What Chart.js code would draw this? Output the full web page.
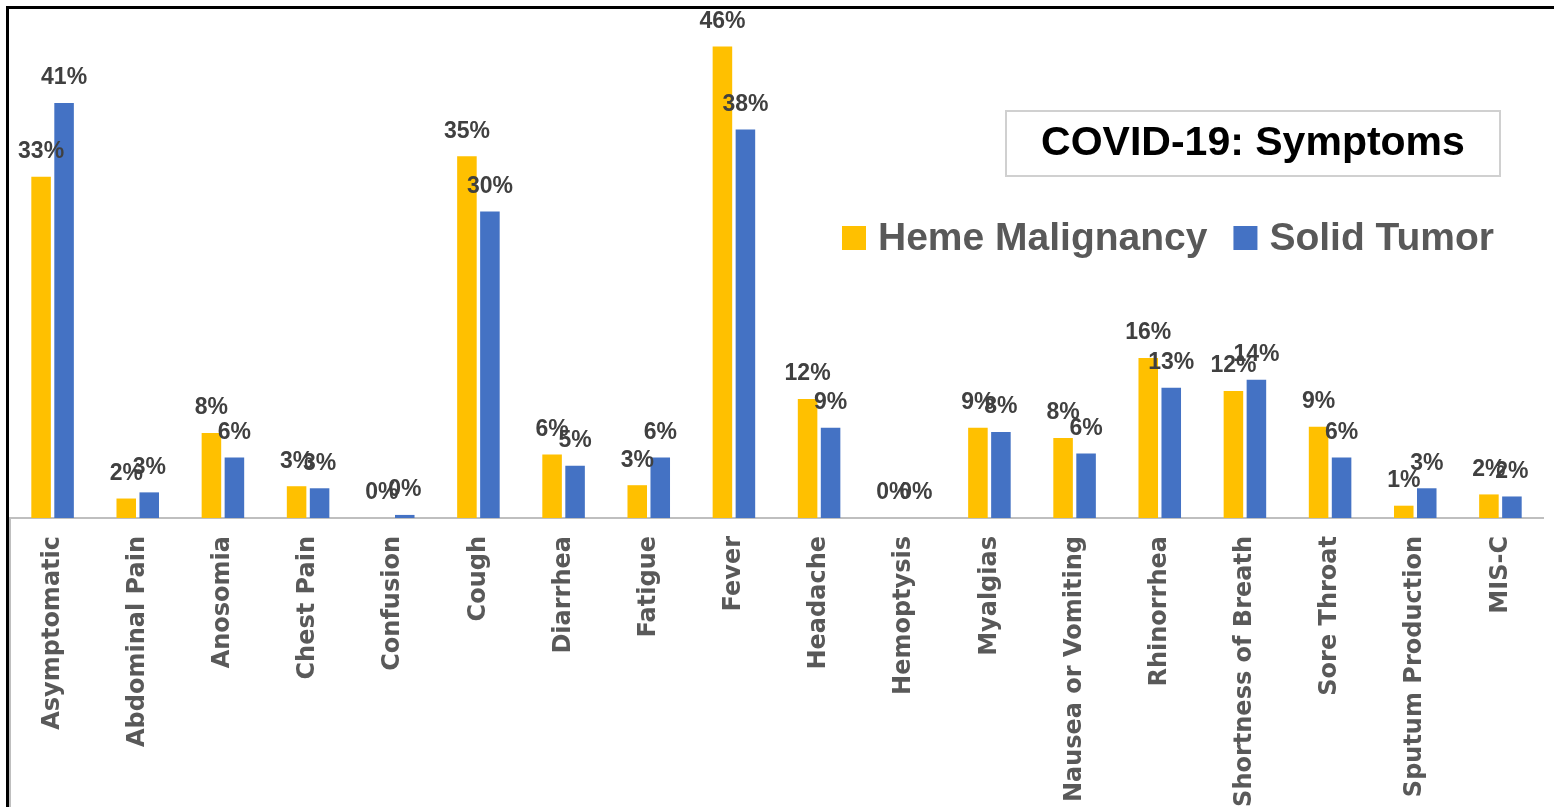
<!DOCTYPE html>
<html>
<head>
<meta charset="utf-8">
<script src="https://cdn.jsdelivr.net/npm/chart.js@4"></script>
<style>
    html, body { margin: 0; padding: 0; background: #fff; }
    #wrap { width: 1554px; height: 807px; position: relative; }
</style>
</head>
<body>
<div id="wrap"><canvas id="chart"></canvas></div>
<script>
const categories = [
    "Asymptomatic", "Abdominal Pain", "Anosomia", "Chest Pain", "Confusion", "Cough",
    "Diarrhea", "Fatigue", "Fever", "Headache", "Hemoptysis", "Myalgias",
    "Nausea or Vomiting", "Rhinorrhea", "Shortness of Breath", "Sore Throat",
    "Sputum Production", "MIS-C"
];
const hemeValues = [33.3, 1.9, 8.3, 3.1, 0, 35.3, 6.2, 3.2, 46, 11.6, 0, 8.8, 7.8, 15.6, 12.4, 8.9, 1.2, 2.3];
const solidValues = [40.5, 2.5, 5.9, 2.9, 0.3, 29.9, 5.1, 5.9, 37.9, 8.8, 0, 8.4, 6.3, 12.7, 13.5, 5.9, 2.9, 2.1];
const seriesNames = ["Heme Malignancy", "Solid Tumor"];
const chartTitle = "COVID-19: Symptoms";

// frame, title box, legend and value labels
const decorations = {
    id: 'decorations',
    afterDatasetsDraw(chart) {
        const ctx = chart.ctx;
        ctx.save();
        ctx.font = 'bold 23px "Liberation Sans"';
        ctx.fillStyle = '#404040';
        ctx.textAlign = 'center';
        ctx.textBaseline = 'middle';
        chart.data.datasets.forEach((ds, i) => {
            chart.getDatasetMeta(i).data.forEach((bar, j) => {
                ctx.fillText(Math.round(ds.data[j]) + '%', bar.x, bar.y - 25);
            });
        });
        ctx.restore();
    },
    afterDraw(chart) {
        const ctx = chart.ctx;
        const area = chart.chartArea;
        ctx.save();

        // outer frame
        ctx.fillStyle = '#000';
        ctx.fillRect(6, 6, chart.width - 6, 3);
        ctx.fillRect(6, 6, 3, chart.height - 6);
        ctx.fillStyle = '#BFBFBF';
        ctx.fillRect(area.left - 1, area.bottom, 2, chart.height - area.bottom);

        // title box
        ctx.strokeStyle = '#D0D0D0';
        ctx.lineWidth = 2;
        ctx.strokeRect(1006, 111, 494, 65);
        ctx.fillStyle = '#000';
        ctx.font = 'bold 41px "Liberation Sans"';
        ctx.textAlign = 'center';
        ctx.textBaseline = 'middle';
        ctx.fillText(chartTitle, 1253, 144);

        // legend
        ctx.font = 'bold 39px "Liberation Sans"';
        ctx.textAlign = 'left';
        let x = 842;
        chart.data.datasets.forEach((ds) => {
            ctx.fillStyle = ds.backgroundColor;
            ctx.fillRect(x, 226, 24, 24);
            ctx.fillStyle = '#595959';
            ctx.fillText(ds.label, x + 36, 239);
            x += 36 + ctx.measureText(ds.label).width + 26;
        });
        ctx.restore();
    }
};

new Chart(document.getElementById('chart'), {
    type: 'bar',
    data: {
        labels: categories,
        datasets: [
            { label: seriesNames[0], data: hemeValues, backgroundColor: '#FFC000' },
            { label: seriesNames[1], data: solidValues, backgroundColor: '#4472C4' }
        ]
    },
    options: {
        responsive: true,
        maintainAspectRatio: false,
        animation: false,
        categoryPercentage: 0.54,
        barPercentage: 0.85,
        layout: { padding: { left: 10, right: 11, top: 26, bottom: 0 } },
        plugins: {
            legend: { display: false },
            tooltip: { enabled: false }
        },
        scales: {
            x: {
                grid: { display: false, drawTicks: false },
                border: { display: true, color: '#BFBFBF', width: 2 },
                ticks: {
                    minRotation: 90,
                    maxRotation: 90,
                    padding: 18,
                    color: '#595959',
                    font: { family: '"DejaVu Sans"', weight: 'bold', size: 24 }
                },
                afterFit: (scale) => { scale.height = 289; }
            },
            y: {
                display: false,
                min: 0,
                max: 48
            }
        }
    },
    plugins: [decorations]
});
</script>
</body>
</html>
